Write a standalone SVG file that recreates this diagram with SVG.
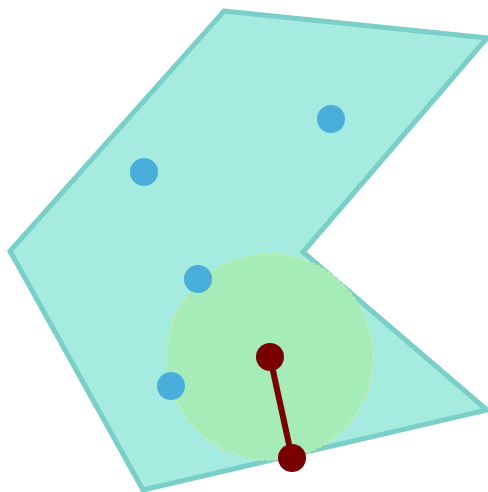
<svg xmlns="http://www.w3.org/2000/svg" width="488" height="492" viewBox="0 0 488 492">
<style>
.pt{fill:#4aaedb}
.rp{fill:#780000}
</style>
<rect width="488" height="492" fill="#ffffff"/>
<g id="polygon">
<polygon points="224,11 487,38 303,252 487,410 143,490 10,251" fill="#a6ebe0" stroke="#7acfc8" stroke-width="5" stroke-linejoin="miter"/>
</g>
<g id="circle">
<circle cx="270" cy="357" r="103" fill="#a6ecb8" stroke="#d6f08c" stroke-width="1.2" stroke-dasharray="3,3"/>
</g>
<g id="points">
<circle class="pt" cx="331" cy="119" r="14"/>
<circle class="pt" cx="144" cy="172" r="14"/>
<circle class="pt" cx="198" cy="279" r="14"/>
<circle class="pt" cx="171" cy="386" r="14"/>
</g>
<g id="connectors">
<line x1="270" y1="357" x2="292" y2="458" stroke="#780000" stroke-width="6"/>
</g>
<g id="ends">
<circle class="rp" cx="270" cy="357" r="14"/>
<circle class="rp" cx="292" cy="458" r="14"/>
</g>
</svg>
